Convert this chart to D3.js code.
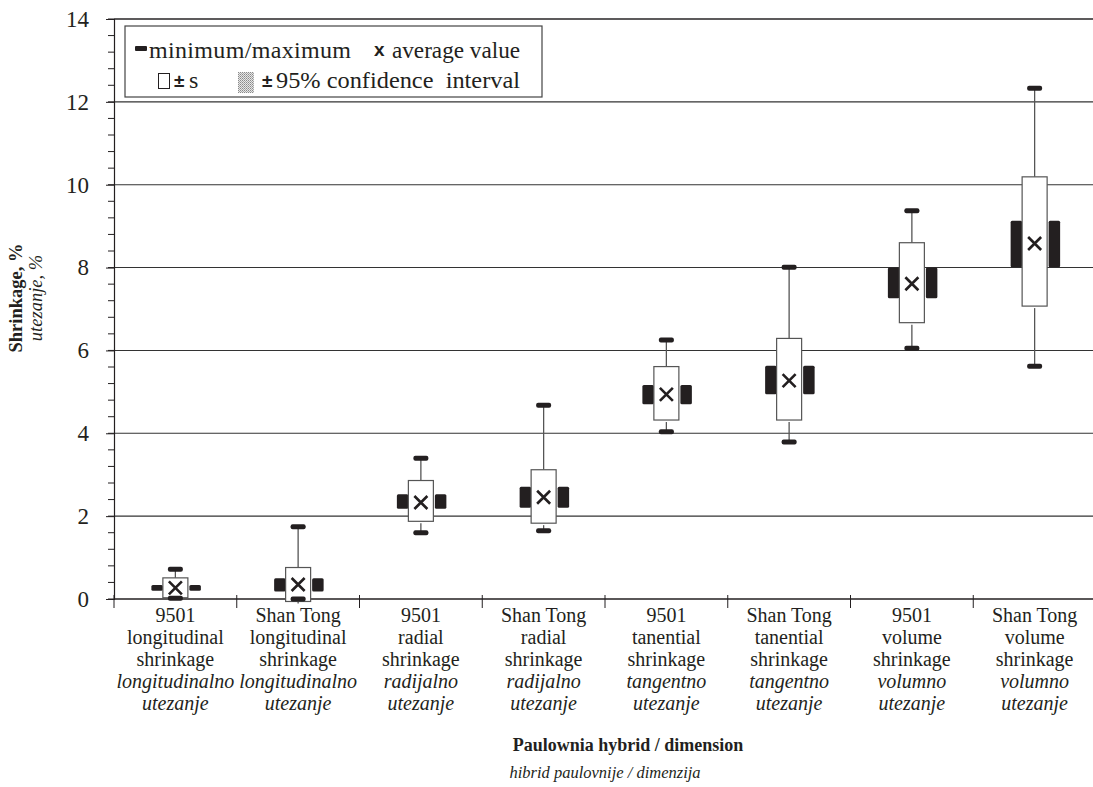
<!DOCTYPE html>
<html>
<head>
<meta charset="utf-8">
<script src="https://cdn.jsdelivr.net/npm/d3@7"></script>
<style>
  html, body { margin: 0; padding: 0; background: #fff; }
  svg text { font-family: "Liberation Serif", "Times New Roman", Times, "DejaVu Serif", serif; }
  svg text.sans { font-family: "Liberation Sans", Arial, "DejaVu Sans", sans-serif; }
</style>
</head>
<body>
<svg id="chart" width="1093" height="787"></svg>
<script>
// ---- data ----
const hybrids    = ["9501", "Shan Tong", "9501", "Shan Tong", "9501", "Shan Tong", "9501", "Shan Tong"];
const dimensions = ["longitudinal", "longitudinal", "radial", "radial", "tanential", "tanential", "volume", "volume"];
const shrinkWord = ["shrinkage", "shrinkage", "shrinkage", "shrinkage", "shrinkage", "shrinkage", "shrinkage", "shrinkage"];
const localDim   = ["longitudinalno", "longitudinalno", "radijalno", "radijalno", "tangentno", "tangentno", "volumno", "volumno"];
const localWord  = ["utezanje", "utezanje", "utezanje", "utezanje", "utezanje", "utezanje", "utezanje", "utezanje"];

const minV    = [0.02, 0.00, 1.60, 1.65, 4.04, 3.79, 6.05, 5.62];
const maxV    = [0.72, 1.745, 3.40, 4.675, 6.25, 8.01, 9.37, 12.33];
const meanV   = [0.27, 0.35, 2.33, 2.455, 4.94, 5.27, 7.61, 8.58];
const sdLow   = [0.03, -0.06, 1.875, 1.83, 4.32, 4.32, 6.67, 7.07];   // mean - s
const sdHigh  = [0.51, 0.76, 2.86, 3.12, 5.61, 6.29, 8.60, 10.19];   // mean + s
const ciLow   = [0.20, 0.18, 2.18, 2.20, 4.70, 4.94, 7.26, 8.01];    // mean - 95% CI
const ciHigh  = [0.34, 0.50, 2.53, 2.71, 5.165, 5.63, 8.00, 9.13];   // mean + 95% CI

const yTicks = [0, 2, 4, 6, 8, 10, 12, 14];

// ---- layout ----
const svg = d3.select("#chart");
const L = 114, R = 1096, T = 19, B = 599;
const ink = "#231f20";

const x = d3.scaleBand().domain(d3.range(hybrids.length)).range([L, R]).paddingInner(0).paddingOuter(0);
const y = d3.scaleLinear().domain([0, 14]).range([B, T]);

// gridlines
svg.append("g").selectAll("line").data(yTicks.filter(v => v > 0)).join("line")
  .attr("x1", L).attr("x2", R)
  .attr("y1", d => y(d)).attr("y2", d => y(d))
  .attr("stroke", "#333").attr("stroke-width", 1.1);

// y axis with minor ticks
const minor = d3.range(0, 14.001, 0.4).map(v => +v.toFixed(1));
svg.append("g").selectAll("line").data(minor).join("line")
  .attr("x1", L - 6).attr("x2", L)
  .attr("y1", d => y(d)).attr("y2", d => y(d))
  .attr("stroke", ink).attr("stroke-width", 1);

const yAxis = d3.axisLeft(y).tickValues(yTicks).tickSize(8).tickPadding(17).tickFormat(d3.format("d"));
const gy = svg.append("g").attr("transform", `translate(${L},0)`).call(yAxis);
gy.select(".domain").attr("stroke", ink).attr("stroke-width", 1.2);
gy.selectAll(".tick line").attr("stroke", ink);
gy.selectAll(".tick text").attr("font-size", 23).attr("fill", ink);

// x axis
const xAxisLine = svg.append("g");
xAxisLine.append("line").attr("x1", L).attr("x2", R).attr("y1", B).attr("y2", B)
  .attr("stroke", ink).attr("stroke-width", 1.3);
const bounds = d3.range(hybrids.length + 1).map(i => i < hybrids.length ? x(i) : x(hybrids.length - 1) + x.bandwidth());
xAxisLine.selectAll("line.t").data(bounds).join("line").attr("class", "t")
  .attr("x1", d => d).attr("x2", d => d).attr("y1", B - 4).attr("y2", B + 9)
  .attr("stroke", ink).attr("stroke-width", 1);

// top border
svg.append("line").attr("x1", L).attr("x2", R).attr("y1", T).attr("y2", T)
  .attr("stroke", ink).attr("stroke-width", 1.2);

// ---- marks ----
const boxW = 25, ciW = 11.5, capW = 15, capH = 5;
const g = svg.append("g");
hybrids.forEach((h, i) => {
  const cx = x(i) + x.bandwidth() / 2;
  g.append("line").attr("x1", cx).attr("x2", cx).attr("y1", y(maxV[i])).attr("y2", y(sdHigh[i]))
    .attr("stroke", "#555").attr("stroke-width", 1.3);
  g.append("line").attr("x1", cx).attr("x2", cx).attr("y1", y(sdLow[i]) + 2).attr("y2", y(minV[i]))
    .attr("stroke", "#555").attr("stroke-width", 1.3);
  g.append("rect").attr("x", cx - boxW / 2 - ciW).attr("width", ciW)
    .attr("y", y(ciHigh[i])).attr("height", y(ciLow[i]) - y(ciHigh[i]))
    .attr("rx", 1.5).attr("fill", ink);
  g.append("rect").attr("x", cx + boxW / 2 + 1.5).attr("width", ciW)
    .attr("y", y(ciHigh[i])).attr("height", y(ciLow[i]) - y(ciHigh[i]))
    .attr("rx", 1.5).attr("fill", ink);
  g.append("rect").attr("x", cx - boxW / 2).attr("width", boxW)
    .attr("y", y(sdHigh[i])).attr("height", y(sdLow[i]) - y(sdHigh[i]))
    .attr("fill", "#fff").attr("stroke", "#555").attr("stroke-width", 1.2);
  [maxV[i], minV[i]].forEach(v => {
    g.append("rect").attr("x", cx - capW / 2).attr("width", capW)
      .attr("y", y(v) - capH / 2).attr("height", capH).attr("rx", 2).attr("fill", ink);
  });
  const my = y(meanV[i]), s = 6.5;
  g.append("path").attr("d", `M${cx - s},${my - s}L${cx + s},${my + s}M${cx - s},${my + s}L${cx + s},${my - s}`)
    .attr("stroke", ink).attr("stroke-width", 2.6).attr("fill", "none");
});

// ---- category labels ----
const lab = svg.append("g").attr("fill", ink).attr("text-anchor", "middle");
hybrids.forEach((h, i) => {
  const cx = x(i) + x.bandwidth() / 2;
  const t = lab.append("text").attr("x", cx).attr("y", 622).attr("font-size", 20);
  const lines = [[h, "normal"], [dimensions[i], "normal"], [shrinkWord[i], "normal"], [localDim[i], "italic"], [localWord[i], "italic"]];
  lines.forEach((ln, k) => {
    t.append("tspan").attr("x", cx).attr("dy", k === 0 ? 0 : 22).attr("font-style", ln[1]).text(ln[0]);
  });
});

// axis titles
svg.append("text").attr("x", 628).attr("y", 751).attr("text-anchor", "middle")
  .attr("font-size", 18).attr("font-weight", "bold").attr("fill", ink).text("Paulownia hybrid / dimension");
svg.append("text").attr("x", 605).attr("y", 778).attr("text-anchor", "middle")
  .attr("font-size", 16.5).attr("font-style", "italic").attr("fill", ink).text("hibrid paulovnije / dimenzija");

const yt = svg.append("g").attr("transform", "translate(22,298) rotate(-90)").attr("text-anchor", "middle").attr("fill", ink);
yt.append("text").attr("x", 0).attr("y", 0).attr("font-size", 18.5).attr("font-weight", "bold").text("Shrinkage, %");
yt.append("text").attr("x", 0).attr("y", 20).attr("font-size", 18.5).attr("font-style", "italic").text("utezanje, %");

// ---- legend ----
const lg = svg.append("g");
lg.append("rect").attr("x", 125).attr("y", 26).attr("width", 417).attr("height", 71)
  .attr("fill", "#fff").attr("stroke", "#444").attr("stroke-width", 1.2);
lg.append("rect").attr("x", 135).attr("y", 46).attr("width", 12).attr("height", 5).attr("rx", 1).attr("fill", ink);
lg.append("text").attr("x", 149).attr("y", 58).attr("font-size", 24).attr("fill", ink)
  .attr("textLength", 202).attr("lengthAdjust", "spacing").text("minimum/maximum");
lg.append("text").attr("class", "sans").attr("x", 374).attr("y", 56).attr("font-size", 19).attr("font-weight", "bold")
  .attr("fill", ink).text("x");
lg.append("text").attr("x", 392).attr("y", 58).attr("font-size", 24).attr("fill", ink)
  .attr("textLength", 128).attr("lengthAdjust", "spacingAndGlyphs").text("average value");
lg.append("rect").attr("x", 158.5).attr("y", 73.5).attr("width", 11).attr("height", 15)
  .attr("fill", "none").attr("stroke", ink).attr("stroke-width", 1);
lg.append("text").attr("class", "sans").attr("x", 174).attr("y", 87).attr("font-size", 19).attr("font-weight", "bold")
  .attr("fill", ink).text("±");
lg.append("text").attr("x", 189).attr("y", 88).attr("font-size", 24).attr("fill", ink).text("s");
const defs = svg.append("defs");
const pat = defs.append("pattern").attr("id", "dots").attr("patternUnits", "userSpaceOnUse").attr("width", 2).attr("height", 2);
pat.append("rect").attr("width", 2).attr("height", 2).attr("fill", "#e6e6e6");
pat.append("rect").attr("width", 1).attr("height", 1).attr("fill", "#8a8a8a");
pat.append("rect").attr("x", 1).attr("y", 1).attr("width", 1).attr("height", 1).attr("fill", "#a8a8a8");
lg.append("rect").attr("x", 238).attr("y", 72).attr("width", 16).attr("height", 21).attr("fill", "url(#dots)");
lg.append("text").attr("class", "sans").attr("x", 262).attr("y", 87).attr("font-size", 19).attr("font-weight", "bold")
  .attr("fill", ink).text("±");
lg.append("text").attr("x", 276).attr("y", 88).attr("font-size", 24).attr("fill", ink)
  .attr("textLength", 244).attr("lengthAdjust", "spacingAndGlyphs")
  .attr("xml:space", "preserve").text("95% confidence  interval");
</script>
</body>
</html>
